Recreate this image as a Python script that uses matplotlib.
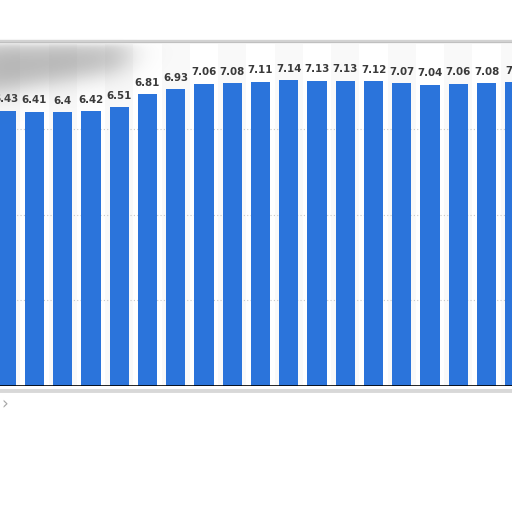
import numpy as np
import matplotlib
matplotlib.use('Agg')
import matplotlib.pyplot as plt
from matplotlib.lines import Line2D

# values (the last one is cut off at the right edge)
values = [6.43, 6.41, 6.4, 6.42, 6.51, 6.81, 6.93, 7.06, 7.08, 7.11,
          7.14, 7.13, 7.13, 7.12, 7.07, 7.04, 7.06, 7.08, 7.1]
labels = ['6.43', '6.41', '6.4', '6.42', '6.51', '6.81', '6.93', '7.06', '7.08', '7.11',
          '7.14', '7.13', '7.13', '7.12', '7.07', '7.04', '7.06', '7.08', '7.1']
grid_vals = [2, 4, 6]

W = H = 512
fig = plt.figure(figsize=(W / 100, H / 100), dpi=100)
fig.patch.set_facecolor('white')

# plot area: baseline at y=385.5px, value 8 at y=43.6px
ax = fig.add_axes([0, (H - 385.5) / H, 1, 341.9 / H])
x = np.arange(len(values))
ax.set_xlim(-0.221, 17.90)
ax.set_ylim(0, 8)

# faint alternating column bands
for i in x[::2]:
    ax.axvspan(i - 0.5, i + 0.5, color='#f9f9f9', zorder=0, lw=0)

for g in grid_vals:
    ax.axhline(g, color='#c8c8c8', lw=0.8, ls=(0, (1, 2)), zorder=1)

ax.bar(x, values, width=0.68, color='#2b74db', zorder=2)
for xi, v, s in zip(x, values, labels):
    ax.text(xi, v + 0.15, s, ha='center', va='bottom', fontsize=7.4,
            fontweight='bold', color='#3a3a3a', zorder=3, clip_on=False)

for sp in ax.spines.values():
    sp.set_visible(False)
ax.axhline(0, color='black', lw=1.2, zorder=4)
ax.set_xticks([])
ax.set_yticks([])

# blurred (redacted) patch in the top left corner
yy, xx = np.mgrid[0:H, 0:W]
def soft(a, lo, hi, s):
    return 1 / (1 + np.exp(-(a - lo) / s)) / (1 + np.exp((a - hi) / s))
lower = 90 - 0.17 * xx
alpha = 0.55 * soft(xx, -30, 128, 10) * soft(yy, 43, lower, 7)
alpha *= 1 / (1 + np.exp(-(yy - 43) / 1.5))
img = np.zeros((H, W, 4))
img[..., :3] = 0.47
img[..., 3] = alpha
over = fig.add_axes([0, 0, 1, 1])
over.imshow(img, extent=[0, W, H, 0], interpolation='bilinear')
over.set_xlim(0, W)
over.set_ylim(H, 0)
over.axis('off')

# panel border / shadows
fig.add_artist(Line2D([0, 1], [(H - 40.5) / H] * 2, color='#d2d2d2', lw=2.4))
fig.add_artist(Line2D([0, 1], [(H - 41.5) / H] * 2, color='#c0c0c0', lw=0.8))
fig.add_artist(Line2D([0, 1], [(H - 391) / H] * 2, color='#d8d8d8', lw=2.8))
fig.text(1 / W, 1 - 404 / H, '›', fontsize=12, color='#a8a8a8', va='center', ha='left')

fig.savefig('out.png', dpi=100)
